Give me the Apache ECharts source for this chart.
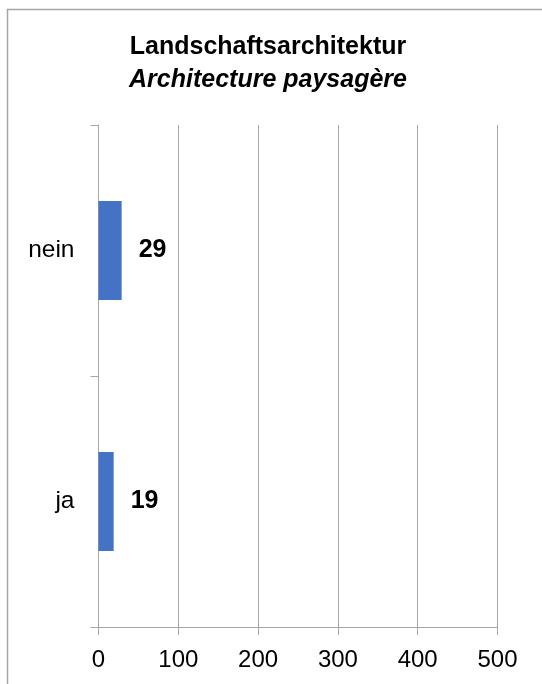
<!DOCTYPE html>
<html>
<head>
<meta charset="utf-8">
<script src="https://cdn.jsdelivr.net/npm/echarts@6/dist/echarts.min.js"></script>
<style>
  html, body { margin: 0; padding: 0; background: #fff; }
  #chart { width: 542px; height: 684px; }
</style>
</head>
<body>
<div id="chart"></div>
<script>
// categories bottom -> top
var categories = ['ja', 'nein'];
var counts = [19, 29];
var xTicks = [0, 100, 200, 300, 400, 500];

var font = "'Liberation Sans', Arial, sans-serif";
var gridColor = '#a6a6a6';

var chart = echarts.init(document.getElementById('chart'));

var option = {
    backgroundColor: '#fff',
    animation: false,
    title: {
        text: '{a|Landschaftsarchitektur}\n{b|Architecture paysagère}',
        left: 263,
        top: 26,
        textAlign: 'center',
        textStyle: {
            rich: {
                a: {fontFamily: font, fontSize: 25, fontWeight: 'bold', color: '#000', lineHeight: 33},
                b: {fontFamily: font, fontSize: 25, fontWeight: 'bold', fontStyle: 'italic', color: '#000', lineHeight: 33}
            }
        }
    },
    graphic: [{
        type: 'rect',
        shape: {x: 7.5, y: 9.5, width: 700, height: 800},
        style: {fill: 'none', stroke: '#a6a6a6', lineWidth: 1.5},
        silent: true
    }],
    grid: {left: 98.5, right: 44.5, top: 125, bottom: 57},
    xAxis: {
        type: 'value',
        min: xTicks[0],
        max: xTicks[xTicks.length - 1],
        interval: xTicks[1] - xTicks[0],
        axisLine: {show: true, lineStyle: {color: gridColor}},
        axisTick: {show: true, length: 8, lineStyle: {color: gridColor}},
        splitLine: {show: true, lineStyle: {color: gridColor, width: 1}},
        axisLabel: {color: '#000', fontFamily: font, fontSize: 24, margin: 21}
    },
    yAxis: {
        type: 'category',
        data: categories,
        axisLine: {show: true, lineStyle: {color: gridColor}},
        axisTick: {show: true, length: 8, lineStyle: {color: gridColor}},
        axisLabel: {color: '#000', fontFamily: font, fontSize: 24.5, margin: 24}
    },
    series: [{
        type: 'bar',
        data: counts,
        barWidth: 99,
        itemStyle: {color: '#4472C4'},
        label: {
            show: true,
            position: 'right',
            distance: 17,
            color: '#000',
            fontFamily: font,
            fontSize: 25,
            fontWeight: 'bold'
        }
    }]
};

chart.setOption(option);
</script>
</body>
</html>
